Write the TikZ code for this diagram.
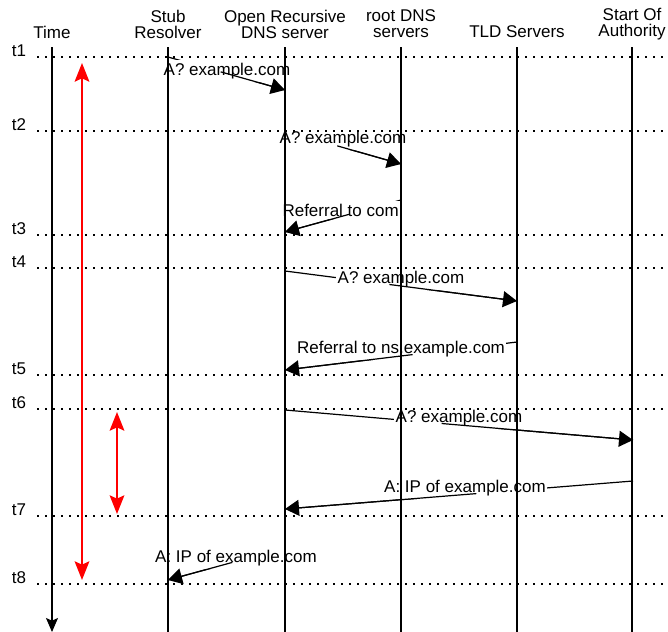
\documentclass[tikz,border=0pt]{standalone}
\usepackage{fontspec}
\setmainfont{Liberation Sans}
\usetikzlibrary{arrows.meta,calc}

\begin{document}
\begin{tikzpicture}[x=0.75pt, y=-0.75pt, >=Stealth,
    font=\fontsize{12.75}{12}\selectfont,
    life/.style={line width=0.9pt},
    tick/.style={line width=1.2pt, dash pattern=on 1.2pt off 4.8pt},
    msgline/.style={line width=0.9pt},
    msg/.style={line width=0.9pt, -{Triangle[length=10.5pt,width=12pt]}},
    msglbl/.style={fill=white, inner xsep=1pt, inner ysep=2pt},
    span/.style={red, line width=1.5pt, {Stealth[length=14pt,width=11pt,inset=2.5pt]}-{Stealth[length=14pt,width=11pt,inset=2.5pt]}}]
    \useasboundingbox (0,0) rectangle (668,632);
    % column heads
    \node (time) at (52,32) {Time};
    \node[align=center] (stub) at (168,24) {Stub\\Resolver};
    \node[align=center] (orr) at (285,24) {Open Recursive\\DNS server};
    \node[align=center] (root) at (401,24) {root DNS\\servers};
    \node (tld) at (517,32) {TLD Servers};
    \node[align=center] (soa) at (632,24) {Start Of\\Authority};
    \coordinate (top) at (0,47);
    \coordinate (bot) at (0,632);
    % message end points
    \coordinate (q1a) at (168,57);  \coordinate (q1b) at (285,90);
    \coordinate (q2a) at (285,131); \coordinate (q2b) at (401,164);
    \coordinate (q3a) at (401,200); \coordinate (q3b) at (285,232);
    \coordinate (q4a) at (285,271); \coordinate (q4b) at (517,301);
    \coordinate (q5a) at (517,342); \coordinate (q5b) at (285,370);
    \coordinate (q6a) at (285,410); \coordinate (q6b) at (633,440);
    \coordinate (q7a) at (633,481); \coordinate (q7b) at (285,509);
    \coordinate (q8a) at (285,548); \coordinate (q8b) at (168,580);
    % messages, hidden behind their labels
    \foreach \i in {1,...,8}
        \draw[msgline] (q\i a) -- (q\i b);
    \node[msglbl] (l1) at (227,71) {A? example.com};
    \node[msglbl] (l2) at (343,139) {A? example.com};
    \node[msglbl] (l3) at (343,210) {Referral to com.};
    \node[msglbl] (l4) at (401,279) {A? example.com};
    \node[msglbl] (l5) at (401,349) {Referral to ns.example.com};
    \node[msglbl] (l6) at (459,418) {A? example.com};
    \node[msglbl] (l7) at (465,488) {A: IP of example.com};
    \node[msglbl] (l8) at (236,558) {A: IP of example.com};
    % life lines
    \draw[life, -{Stealth[length=10.5pt,width=9pt,inset=2pt]}] (time |- top) -- (time |- bot);
    \foreach \n in {stub, orr, root, tld, soa}
        \draw[life] (\n |- top) -- (\n |- bot);
    % time marks
    \foreach \y/\t in {57/1, 131/2, 235/3, 268/4, 375/5, 409/6, 516/7, 584/8} {
        \node (t\t) at (19,{\y-6}) {t\t};
        \draw[tick] (37,\y) -- (664,\y);
    }
    % visible half of each message
    \foreach \i in {1,...,8}
        \draw[msg] ($(q\i a)!0.45!(q\i b)$) -- (q\i b);
    % red spans
    \coordinate (r1a) at (82,63);  \coordinate (r1b) at (82,580);
    \coordinate (r2a) at (117,412); \coordinate (r2b) at (117,514);
    \draw[span] (r1a) -- (r1b);
    \draw[span] (r2a) -- (r2b);
\end{tikzpicture}
\end{document}
